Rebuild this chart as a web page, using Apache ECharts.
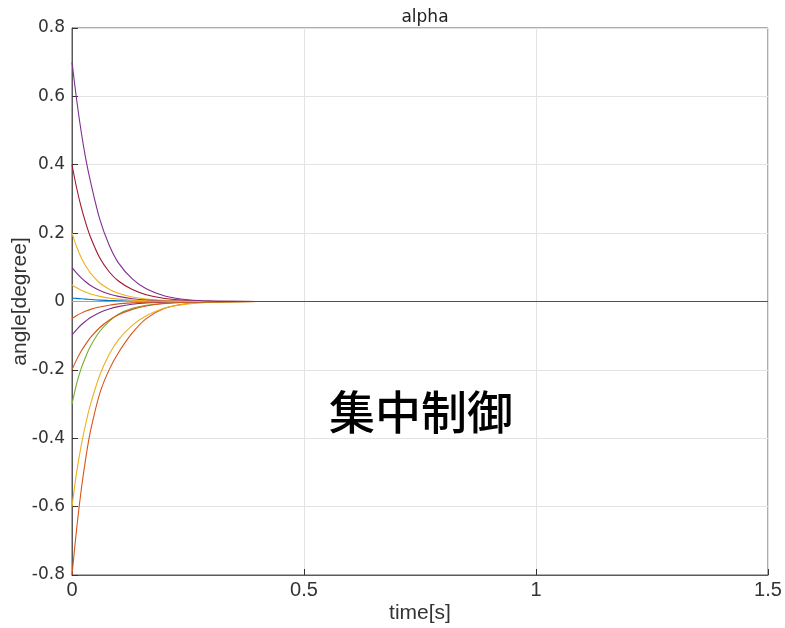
<!DOCTYPE html>
<html>
<head>
<meta charset="utf-8">
<script src="https://cdn.jsdelivr.net/npm/echarts@6/dist/echarts.min.js"></script>
<style>
  html, body { margin: 0; padding: 0; background: #fff; }
  #chart { width: 785px; height: 628px; }
</style>
</head>
<body>
<div id="chart"></div>
<script>
// Sample times [s] shared by every response curve
const times = [0, 0.01, 0.02, 0.03, 0.04, 0.06, 0.08, 0.1, 0.13, 0.16, 0.2, 0.25, 0.3, 0.4, 1.5];

// Angle responses [degree], one array per initial condition
const alphaBlue      = [0.01, 0.009, 0.008, 0.007, 0.006, 0.004, 0.003, 0.002, 0.001, 0.001, 0, 0, 0, 0, 0];
const alphaOrangeA   = [-0.8, -0.665, -0.55, -0.455, -0.378, -0.268, -0.2, -0.15, -0.092, -0.05, -0.02, -0.006, -0.002, 0, 0];
const alphaYellowA   = [-0.6, -0.5, -0.42, -0.355, -0.3, -0.215, -0.155, -0.112, -0.07, -0.042, -0.019, -0.007, -0.002, 0, 0];
const alphaPurpleA   = [-0.098, -0.082, -0.068, -0.057, -0.047, -0.032, -0.022, -0.015, -0.008, -0.004, -0.002, -0.001, 0, 0, 0];
const alphaGreen     = [-0.3, -0.24, -0.195, -0.16, -0.13, -0.087, -0.058, -0.037, -0.02, -0.011, -0.005, -0.002, -0.001, 0, 0];
const alphaLightBlue = [0, 0, 0, 0, 0, 0, 0, 0, 0, 0, 0, 0, 0, 0, 0];
const alphaDarkRed   = [0.4, 0.332, 0.275, 0.228, 0.188, 0.127, 0.087, 0.06, 0.035, 0.02, 0.009, 0.003, 0.001, 0, 0];
const alphaOrangeB   = [-0.2, -0.17, -0.145, -0.124, -0.105, -0.076, -0.055, -0.039, -0.023, -0.013, -0.006, -0.002, -0.001, 0, 0];
const alphaYellowB   = [0.2, 0.16, 0.128, 0.103, 0.083, 0.054, 0.036, 0.024, 0.013, 0.007, 0.003, 0.001, 0, 0, 0];
const alphaPurpleB   = [0.1, 0.083, 0.069, 0.057, 0.047, 0.032, 0.022, 0.015, 0.008, 0.004, 0.002, 0.001, 0, 0, 0];
const alphaOrangeC   = [-0.05, -0.041, -0.034, -0.028, -0.023, -0.016, -0.011, -0.007, -0.004, -0.002, -0.001, 0, 0, 0, 0];
const alphaYellowC   = [0.048, 0.04, 0.033, 0.027, 0.022, 0.015, 0.01, 0.007, 0.004, 0.002, 0.001, 0, 0, 0, 0];
const alphaPurpleC   = [0.7, 0.59, 0.495, 0.415, 0.35, 0.24, 0.165, 0.113, 0.066, 0.037, 0.016, 0.005, 0.001, 0, 0];

const curves = [
  { data: alphaBlue,      color: '#0072BD' },
  { data: alphaOrangeA,   color: '#D95319' },
  { data: alphaYellowA,   color: '#EDB120' },
  { data: alphaPurpleA,   color: '#7E2F8E' },
  { data: alphaGreen,     color: '#77AC30' },
  { data: alphaLightBlue, color: '#4DBEEE' },
  { data: alphaDarkRed,   color: '#A2142F' },
  { data: alphaOrangeB,   color: '#D95319' },
  { data: alphaYellowB,   color: '#EDB120' },
  { data: alphaPurpleB,   color: '#7E2F8E' },
  { data: alphaOrangeC,   color: '#D95319' },
  { data: alphaYellowC,   color: '#EDB120' },
  { data: alphaPurpleC,   color: '#7E2F8E' }
];

const sans = '"Liberation Sans", "Noto Sans", sans-serif';
const wide = '"DejaVu Sans", "Noto Sans", sans-serif';
const chart = echarts.init(document.getElementById('chart'), null, { renderer: 'canvas' });

chart.setOption({
  animation: false,
  title: {
    text: 'alpha',
    left: 420, top: 4, textAlign: 'center',
    textStyle: { fontFamily: wide, fontSize: 17, fontWeight: 'normal', color: '#222' }
  },
  grid: {
    left: 72, right: 17, top: 28, bottom: 53,
    containLabel: false, outerBoundsMode: 'none',
    show: true, borderColor: '#5a5a5a', borderWidth: 1
  },
  xAxis: {
    type: 'value', min: 0, max: 1.5, interval: 0.5,
    name: 'time[s]', nameLocation: 'middle', nameGap: 28, nameMoveOverlap: false,
    nameTextStyle: { fontFamily: sans, fontSize: 21, color: '#333' },
    axisLine: { show: true, onZero: false, lineStyle: { color: '#5a5a5a', width: 1 } },
    axisTick: { show: true, inside: true, length: 6, lineStyle: { color: '#333' } },
    axisLabel: { fontFamily: sans, fontSize: 20, color: '#333', margin: 5,
      formatter: v => String(v) },
    splitLine: { show: true, lineStyle: { color: '#e3e3e3', width: 1 } }
  },
  yAxis: {
    type: 'value', min: -0.8, max: 0.8, interval: 0.2,
    name: 'angle[degree]', nameLocation: 'middle', nameGap: 41, nameMoveOverlap: false,
    nameTextStyle: { fontFamily: sans, fontSize: 21, color: '#333' },
    axisLine: { show: true, onZero: false, lineStyle: { color: '#5a5a5a', width: 1 } },
    axisTick: { show: true, inside: true, length: 6, lineStyle: { color: '#333' } },
    axisLabel: { fontFamily: wide, fontSize: 17, color: '#333', margin: 7,
      formatter: v => String(Math.round(v * 10) / 10) },
    splitLine: { show: true, lineStyle: { color: '#e3e3e3', width: 1 } }
  },
  graphic: [{
    type: 'text',
    left: 329, top: 389,
    style: {
      text: '集中制御',
      font: '500 46px "Noto Sans CJK JP", sans-serif',
      fill: '#000'
    }
  }],
  series: curves.map(c => ({
    type: 'line',
    data: times.map((t, i) => [t, c.data[i]]),
    showSymbol: false,
    smooth: 0.3,
    lineStyle: { color: c.color, width: 1.1 },
    itemStyle: { color: c.color }
  }))
});
</script>
</body>
</html>
